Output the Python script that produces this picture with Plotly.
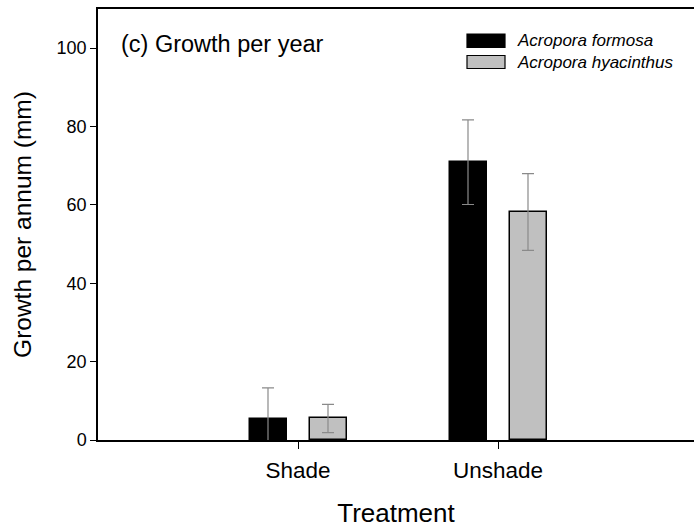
import plotly.graph_objects as go

# Treatment groups and growth per annum (mm), mean ± error
treatments = ["Shade", "Unshade"]
species = ["Acropora formosa", "Acropora hyacinthus"]
formosa_mean = [5.3, 70.9]
formosa_err = [8.0, 10.8]
hyacinthus_mean = [5.5, 58.2]
hyacinthus_err = [3.6, 9.8]

fills = ["#000000", "#c0c0c0"]
FONT = "Liberation Sans, Arial, sans-serif"

# plot area in pixels
L, T, W, H = 98, 9, 596, 431


def px_x(x):
    return (x - L) / W


def px_y(y):
    return 1 - (y - T) / H


x_pos = list(range(len(treatments)))
fig = go.Figure()
for i, (name, mean, err) in enumerate(
    [(species[0], formosa_mean, formosa_err), (species[1], hyacinthus_mean, hyacinthus_err)]
):
    fig.add_trace(go.Bar(
        x=x_pos, y=mean, name=name, width=0.185,
        offset=-0.2425 if i == 0 else 0.0575,
        marker=dict(color=fills[i], line=dict(color="#000000", width=1.5)),
        error_y=dict(type="data", array=err, visible=True, color="#8a8a8a",
                     thickness=1.2, width=6),
        showlegend=False,
    ))

fig.update_layout(
    width=694, height=528,
    margin=dict(l=L, r=694 - L - W, t=T, b=528 - T - H),
    plot_bgcolor="white", paper_bgcolor="white",
    font=dict(family=FONT, color="#000000", size=18),
    bargap=0,
    xaxis=dict(
        range=[-1.0, 1.98], tickmode="array", tickvals=x_pos, ticktext=treatments,
        showline=True, linecolor="#000000", linewidth=1.5, mirror=True,
        ticks="outside", ticklen=7, tickcolor="#000000", tickwidth=1,
        ticklabelstandoff=2, showgrid=False, zeroline=False,
        title=dict(text="Treatment", font=dict(size=26), standoff=24),
        tickfont=dict(size=22.5),
    ),
    yaxis=dict(
        range=[0, 110], tickvals=[0, 20, 40, 60, 80, 100],
        showline=True, linecolor="#000000", linewidth=1.5,
        ticks="outside", ticklen=6, tickcolor="#000000", tickwidth=1,
        showgrid=False, zeroline=False,
        title=dict(text="Growth per annum (mm)", font=dict(size=24.5), standoff=18),
        tickfont=dict(size=18),
    ),
)

# Panel label
fig.add_annotation(
    xref="paper", yref="paper", x=px_x(119), y=px_y(44),
    text="(c) Growth per year", showarrow=False,
    font=dict(size=23.5), xanchor="left", yanchor="middle",
)

# Legend drawn as swatches with italic labels
legend_rows = [(34, 47.5), (55.5, 68.5)]
for (y0, y1), name, col in zip(legend_rows, species, fills):
    fig.add_shape(
        type="rect", xref="paper", yref="paper",
        x0=px_x(467), x1=px_x(505), y0=px_y(y1), y1=px_y(y0),
        fillcolor=col, line=dict(color="#000000", width=1.2),
    )
    fig.add_annotation(
        xref="paper", yref="paper", x=px_x(515), y=px_y((y0 + y1) / 2),
        text=f"<i>{name}</i>", showarrow=False, xanchor="left", yanchor="middle",
        font=dict(size=17),
    )

fig.write_html("out.html")
